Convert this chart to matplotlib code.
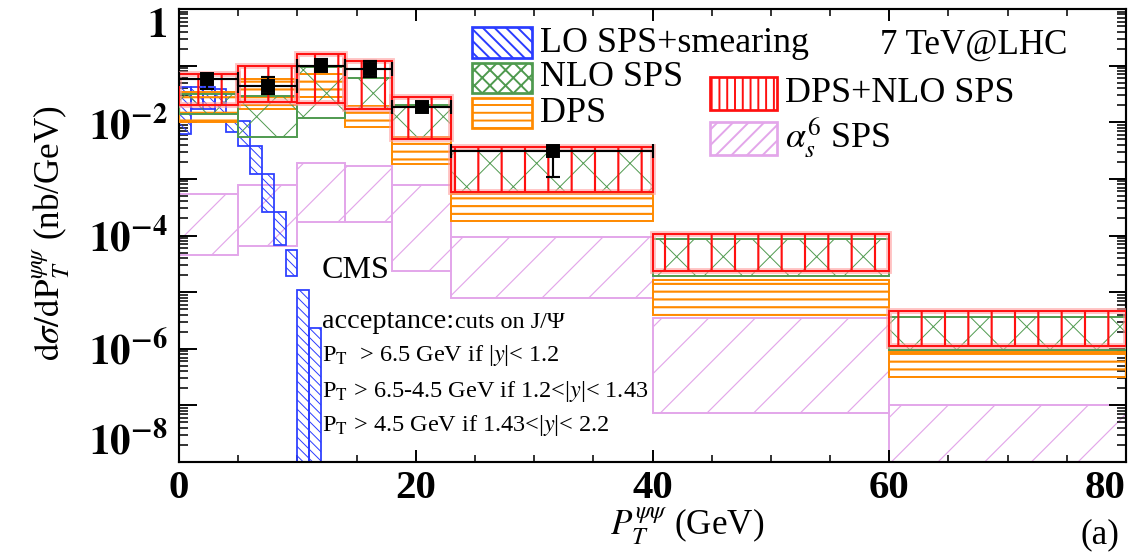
import numpy as np
import matplotlib
matplotlib.use("Agg")
import matplotlib.pyplot as plt
from matplotlib.patches import Rectangle

# ---------------- data ----------------
edges = [0, 5, 10, 14, 18, 23, 40, 60, 80]

dps_nlo_upper = [0.071, 0.098, 0.16, 0.12, 0.028, 0.0036, 1.05e-4, 4.7e-6]
dps_nlo_lower = [0.020, 0.023, 0.022, 0.017, 0.0050, 5.8e-4, 2.4e-5, 1.1e-6]

nlo_upper = [0.032, 0.029, 0.093, 0.060, 0.020, 0.0031, 8.5e-5, 3.7e-6]
nlo_lower = [0.014, 0.0054, 0.012, 0.017, 0.0050, 5.8e-4, 1.95e-5, 9.5e-7]

dps_upper = [0.034, 0.058, 0.071, 0.019, 0.0056, 5.4e-4, 1.66e-5, 8.9e-7]
dps_lower = [0.010, 0.017, 0.028, 0.0081, 0.0018, 1.8e-4, 4.0e-6, 3.2e-7]

as6_upper = [5.4e-4, 7.9e-4, 0.0019, 0.0017, 7.9e-4, 9.5e-5, 3.5e-6, 1.0e-7]
as6_lower = [4.6e-5, 6.5e-5, 1.7e-4, 1.7e-4, 2.4e-5, 7.9e-6, 7.4e-8, 1.0e-10]

lo_edges = [0, 1, 2, 3, 4, 5, 6, 7, 8, 9, 10, 11, 12]
lo_upper = [0.042, 0.042, 0.042, 0.038, 0.0105, 0.0105, 0.0038, 0.0012, 2.6e-4, 5.6e-5, 1.1e-5, 2.3e-6]
lo_lower = [0.0063, 0.017, 0.017, 0.014, 0.0066, 0.0038, 0.0012, 2.6e-4, 6.9e-5, 1.9e-5, 1.0e-10, 1.0e-10]

cms_bin_index = [0, 1, 2, 3, 4, 5]
cms_x = [2.4, 7.5, 12.0, 16.1, 20.5, 31.6]
cms_y = [0.058, 0.043, 0.10, 0.087, 0.0185, 0.0031]
cms_err_up = [0.013, 0.020, 0.030, 0.033, 0.0045, 0.0005]
cms_err_dn = [0.020, 0.011, 0.021, 0.024, 0.0027, 0.0020]

xtick_values = [0, 20, 40, 60, 80]
xtick_labels = ["0", "20", "40", "60", "80"]
ytick_values = [1, 1e-1, 1e-2, 1e-3, 1e-4, 1e-5, 1e-6, 1e-7, 1e-8]
ytick_labels = [r"$\mathbf{1}$", "", r"$\mathbf{10^{-2}}$", "", r"$\mathbf{10^{-4}}$", "",
                r"$\mathbf{10^{-6}}$", "", r"$\mathbf{10^{-8}}$"]

legend_labels = ["LO SPS+smearing", "NLO SPS", "DPS", "DPS+NLO SPS", r"$\alpha_s^6$ SPS"]

# ---------------- styling ----------------
W, H, DPI = 1142, 556, 140
plt.rcParams["font.family"] = ["Liberation Serif", "DejaVu Serif"]
plt.rcParams["mathtext.fontset"] = "stix"

C_RED = "#ff1010"
C_GREEN = "#4f9a4f"
C_ORANGE = "#ff8a00"
C_PURPLE = "#e3a6ea"
C_BLUE = "#2a3cff"

fig = plt.figure(figsize=(W / DPI, H / DPI), dpi=DPI)
L, R, T, B = 179, 1126, 9, 462
ax = fig.add_axes([L / W, 1 - B / H, (R - L) / W, (B - T) / H])
ax.set_yscale("log")
ax.set_xlim(0, 80)
ax.set_ylim(1e-8, 1)


def set_hlw(p, hlw):
    if hasattr(p, "set_hatch_linewidth"):
        p.set_hatch_linewidth(hlw)


def band(e, lower, upper, hatch, color, lw, hlw, z):
    e = np.asarray(e, float)
    lo = np.asarray(lower, float)
    up = np.asarray(upper, float)
    plt.rcParams["hatch.linewidth"] = hlw
    bars = ax.bar(e[:-1], up - lo, width=np.diff(e), bottom=lo, align="edge",
                  fill=False, hatch=hatch, edgecolor=color, linewidth=lw, zorder=z)
    for b in bars:
        set_hlw(b, hlw)
    return bars


band(edges, as6_lower, as6_upper, "/", C_PURPLE, 1.0, 0.6, 1)
band(lo_edges, lo_lower, lo_upper, "\\\\\\\\\\", C_BLUE, 0.9, 0.5, 2)
band(edges, dps_lower, dps_upper, "---", C_ORANGE, 1.0, 1.1, 3)
band(edges, nlo_lower, nlo_upper, "x", C_GREEN, 1.0, 0.5, 4)
# light halo around the red band
e = np.asarray(edges, float)
ax.bar(e[:-1], np.asarray(dps_nlo_upper) - np.asarray(dps_nlo_lower), width=np.diff(e),
       bottom=dps_nlo_lower, align="edge", fill=False, edgecolor="#ff9a9a",
       linewidth=3.0, alpha=0.6, zorder=4.5)
band(edges, dps_nlo_lower, dps_nlo_upper, "|", C_RED, 1.0, 1.1, 5)

# CMS data
cx = np.asarray(cms_x)
left = e[cms_bin_index]
right = e[np.asarray(cms_bin_index) + 1]
ax.errorbar(cx, cms_y, yerr=[cms_err_dn, cms_err_up], xerr=[cx - left, right - cx],
            fmt="s", color="black", ms=6.3, elinewidth=1.1, capsize=3.6,
            capthick=1.1, zorder=10)

# ---------------- axes / ticks ----------------
ax.set_xticks(xtick_values)
ax.set_xticklabels(xtick_labels)
ax.set_xticks(np.arange(0, 81, 5), minor=True)
ax.set_yticks(ytick_values)
ax.set_yticklabels(ytick_labels)
ax.yaxis.set_minor_locator(matplotlib.ticker.LogLocator(base=10, subs=np.arange(2, 10), numticks=30))
ax.yaxis.set_minor_formatter(matplotlib.ticker.NullFormatter())

ax.tick_params(axis="both", which="both", direction="in", top=True, right=True, color="black")
ax.tick_params(axis="y", which="major", length=9, width=1.0, pad=6)
ax.tick_params(axis="y", which="minor", length=4.5, width=0.8)
ax.tick_params(axis="x", which="major", length=6, width=1.0, pad=4)
ax.tick_params(axis="x", which="minor", length=3.6, width=0.8)
for sp in ax.spines.values():
    sp.set_linewidth(1.1)

for lab in ax.get_xticklabels():
    lab.set_fontsize(21)
    lab.set_fontweight("bold")
for lab in ax.get_yticklabels():
    lab.set_fontsize(21)
xl = ax.get_xticklabels()
xl[-1].set_ha("right")
yl = ax.get_yticklabels()
yl[0].set_va("top")
yl[-1].set_va("bottom")

ax.set_xlabel(r"$P_T^{\psi\psi}$ (GeV)", fontsize=18)
ax.xaxis.label.set_va("center")
ax.xaxis.set_label_coords(0.536, -0.143)
ax.set_ylabel(r"$\mathrm{d}\sigma/\mathrm{dP}_T^{\psi\psi}$ (nb/GeV)", fontsize=18)
ax.yaxis.label.set_va("center")
ax.yaxis.set_label_coords(-0.135, 0.506)


# ---------------- legend (drawn manually) ----------------
def fx(px):
    return (px - L) / (R - L)


def fy(py):
    return (B - py) / (B - T)


leg = [
    (472, 532, 27, 58, "\\\\\\\\", C_BLUE, 540, 43),
    (472, 532, 63, 93, "xxx", C_GREEN, 540, 78),
    (472, 532, 98, 128, "---", C_ORANGE, 540, 113),
    (710, 777, 77, 110, "|||", C_RED, 785, 93),
    (710, 777, 122, 155, "///", C_PURPLE, 785, 138),
]
for (x0, x1, y0, y1, h, c, tx, ty), lab in zip(leg, legend_labels):
    plt.rcParams["hatch.linewidth"] = 1.0
    r = Rectangle((fx(x0), fy(y1)), fx(x1) - fx(x0), fy(y0) - fy(y1), transform=ax.transAxes,
                  fill=False, hatch=h, edgecolor=c, linewidth=1.4, zorder=20)
    set_hlw(r, 1.0)
    ax.add_patch(r)
    ax.text(fx(tx), fy(ty), lab, transform=ax.transAxes, fontsize=18.5,
            ha="left", va="center", zorder=21)

ax.text(fx(880), fy(45), "7 TeV@LHC", transform=ax.transAxes, fontsize=18,
        ha="left", va="center", zorder=21)

# CMS acceptance text
ax.text(fx(322), fy(271), "CMS", transform=ax.transAxes, fontsize=16.5, ha="left", va="center", zorder=21)
ax.text(fx(322), fy(322), "acceptance:", transform=ax.transAxes, fontsize=14.5, ha="left", va="center", zorder=21)
ax.text(fx(455), fy(323), "cuts on J/Ψ", transform=ax.transAxes, fontsize=12.5, ha="left", va="center", zorder=21)
ax.text(fx(322), fy(356), r"P$_{\mathrm{T}}$  > 6.5 GeV if |$y$|< 1.2", transform=ax.transAxes,
        fontsize=12.5, ha="left", va="center", zorder=21)
ax.text(fx(322), fy(391), r"P$_{\mathrm{T}}$ > 6.5-4.5 GeV if 1.2<|$y$|< 1.43", transform=ax.transAxes,
        fontsize=12.5, ha="left", va="center", zorder=21)
ax.text(fx(322), fy(426), r"P$_{\mathrm{T}}$ > 4.5 GeV if 1.43<|$y$|< 2.2", transform=ax.transAxes,
        fontsize=12.5, ha="left", va="center", zorder=21)

fig.text(1100 / W, 1 - 535 / H, "(a)", fontsize=18, ha="center", va="center")

fig.savefig("out.png", dpi=DPI)
